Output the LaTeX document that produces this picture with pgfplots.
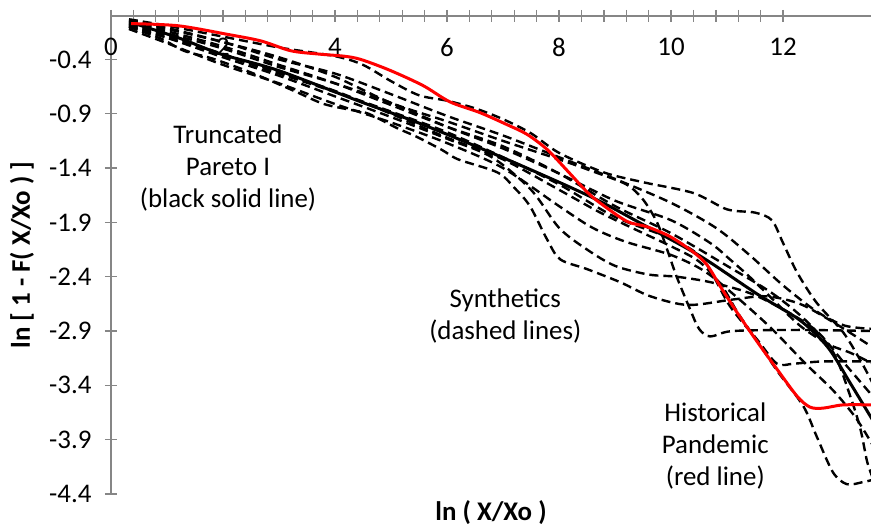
\documentclass[border=0pt]{standalone}
\usepackage{pgfplots}
\pgfplotsset{compat=1.18}
\usepackage{fontspec}
\setmainfont{Carlito}
\definecolor{axisgray}{HTML}{868686}
\begin{document}
\begin{tikzpicture}
\begin{axis}[
  name=ax,
  scale only axis, width=760bp, height=478bp,
  xmin=0, xmax=13.57, ymin=-4.4, ymax=0,
  axis x line=top, axis y line=left,
  axis line style={draw=axisgray, line width=1.3bp, -},
  xtick={0,2,4,6,8,10,12}, xticklabels={0,2,4,6,8,10,12},
  minor x tick num=4,
  ytick={-4.4,-3.9,-3.4,-2.9,-2.4,-1.9,-1.4,-0.9,-0.4},
  yticklabels={-4.4,-3.9,-3.4,-2.9,-2.4,-1.9,-1.4,-0.9,-0.4},
  tick align=center,
  major tick length=12bp, minor tick length=12bp,
  every tick/.style={draw=axisgray, line width=1.3bp},
  every minor tick/.style={draw=axisgray, line width=1.3bp},
  tick label style={font=\fontsize{27}{31}\selectfont},
  xticklabel style={anchor=north, yshift=-25bp},
  yticklabel style={anchor=east, xshift=-10bp},
  xlabel={\textbf{ln ( X/Xo )}},
  ylabel={\textbf{ln [ 1 - F( X/Xo ) ]}},
  label style={font=\fontsize{27}{31}\selectfont},
  xlabel style={at={([yshift=-19bp]rel axis cs:0.5,0)}, anchor=center},
  ylabel style={at={([xshift=-89bp]rel axis cs:0,0.5)}, anchor=center, rotate=0},
  clip=true,
]
% synthetics (dashed)
\pgfplotsset{syn/.style={black, line width=2.4bp, dash pattern=on 9bp off 5bp, smooth}}
\addplot[syn] coordinates {(0.32,-0.03)(1,-0.09)(2,-0.19)(3,-0.29)(4,-0.37)(4.5,-0.45)(5,-0.6)(5.5,-0.73)(6,-0.78)(6.5,-0.85)(7,-0.95)(7.5,-1.08)(8,-1.26)(8.8,-1.44)(9.5,-1.53)(10.4,-1.63)(11,-1.78)(11.5,-1.81)(11.8,-1.88)(12,-2.09)(12.25,-2.36)(12.6,-2.64)(13.07,-2.91)(13.37,-3.16)(13.6,-3.38)};
\addplot[syn] coordinates {(0.32,-0.1)(0.9,-0.21)(1.3,-0.32)(1.8,-0.39)(2.5,-0.52)(3.27,-0.69)(3.8,-0.81)(4.34,-0.87)(4.6,-0.9)(5.1,-1.03)(5.45,-1.11)(5.9,-1.23)(6.2,-1.32)(6.9,-1.44)(7.2,-1.58)(7.48,-1.75)(7.79,-2.06)(8.02,-2.24)(8.5,-2.33)(9.09,-2.45)(9.63,-2.58)(10.3,-2.66)(11.1,-2.61)(11.7,-2.58)(12.3,-2.65)(12.9,-2.82)(13.6,-3.05)};
\addplot[syn] coordinates {(0.32,-0.08)(1,-0.18)(2,-0.35)(3,-0.52)(4,-0.69)(5,-0.9)(6,-1.12)(7,-1.32)(8,-1.6)(8.7,-1.8)(9.3,-1.95)(10,-2.12)(10.5,-2.26)(10.9,-2.48)(11.2,-2.74)(11.55,-3.0)(11.9,-3.27)(12.36,-3.59)(12.6,-3.87)(12.89,-4.2)(13.14,-4.31)(13.43,-4.29)(13.6,-4.27)};
\addplot[syn] coordinates {(0.32,-0.06)(1,-0.14)(2,-0.28)(3,-0.45)(4,-0.62)(5,-0.82)(6,-1.02)(7,-1.2)(8,-1.45)(9,-1.75)(10,-2.0)(11,-2.3)(11.8,-2.55)(12.4,-2.8)(12.9,-3.1)(13.2,-3.5)(13.38,-3.8)(13.5,-4.1)(13.6,-4.25)};
\addplot[syn] coordinates {(0.32,-0.1)(1,-0.2)(2,-0.36)(3,-0.53)(4,-0.7)(5,-0.88)(6,-1.07)(7,-1.3)(8,-1.55)(9,-1.85)(10,-2.05)(10.57,-2.24)(11.05,-2.67)(11.54,-2.98)(11.89,-3.2)(12.2,-3.2)(12.71,-3.18)(13.6,-3.18)};
\addplot[syn] coordinates {(0.32,-0.05)(1,-0.12)(2,-0.24)(3,-0.38)(4,-0.56)(5,-0.8)(6,-0.97)(7,-1.15)(8,-1.32)(8.6,-1.43)(9.2,-1.55)(9.5,-1.69)(9.75,-1.9)(9.93,-2.15)(10.1,-2.4)(10.34,-2.7)(10.5,-2.88)(10.7,-2.95)(11.1,-2.9)(12.3,-2.89)(13.6,-2.9)};
\addplot[syn] coordinates {(0.32,-0.07)(1,-0.16)(2,-0.3)(3,-0.47)(4,-0.62)(5,-0.8)(6,-1.02)(7,-1.22)(8,-1.45)(9,-1.7)(10,-1.88)(10.7,-2.09)(11.05,-2.24)(11.4,-2.4)(11.8,-2.6)(12.3,-2.85)(12.8,-3.02)(13.2,-3.1)(13.6,-3.2)};
\addplot[syn] coordinates {(0.32,-0.12)(1,-0.25)(2,-0.45)(3,-0.62)(4,-0.81)(5,-0.98)(6,-1.17)(7,-1.4)(8,-1.75)(8.6,-1.95)(9.2,-2.08)(10,-2.2)(10.6,-2.35)(11.2,-2.6)(11.8,-2.88)(12.4,-3.2)(12.9,-3.45)(13.3,-3.7)(13.6,-3.95)};
\addplot[syn] coordinates {(0.32,-0.09)(1,-0.2)(2,-0.38)(3,-0.55)(4,-0.74)(5,-0.93)(6,-1.13)(6.8,-1.3)(7.5,-1.6)(8,-1.95)(8.5,-2.15)(9,-2.3)(9.6,-2.38)(10.1,-2.4)(10.7,-2.45)(11.4,-2.55)(12,-2.7)(12.6,-2.9)(13.1,-3.2)(13.6,-3.5)};
\addplot[syn] coordinates {(0.32,-0.04)(1,-0.11)(2,-0.24)(3,-0.4)(4,-0.53)(5,-0.72)(6,-0.92)(7,-1.1)(8,-1.3)(9,-1.5)(10,-1.72)(10.8,-1.95)(11.4,-2.2)(12,-2.48)(12.6,-2.72)(13.1,-2.85)(13.6,-2.88)};
% truncated Pareto I (black solid)
\addplot[black, line width=3bp, smooth] coordinates {(0.36,-0.06)(1.2,-0.2)(1.96,-0.35)(2.98,-0.5)(4.46,-0.79)(5.57,-1.0)(7.07,-1.32)(8.55,-1.66)(9.5,-1.92)(10.52,-2.21)(11.54,-2.56)(12.3,-2.8)(12.8,-3.05)(13.2,-3.38)(13.6,-3.72)};
% historical pandemic (red)
\addplot[red, line width=3bp, smooth] coordinates {(0.36,-0.07)(1.2,-0.09)(2.09,-0.17)(2.68,-0.23)(3.21,-0.32)(3.7,-0.35)(4.16,-0.37)(4.46,-0.40)(4.98,-0.50)(5.57,-0.64)(6.05,-0.79)(6.59,-0.89)(7.07,-1.0)(7.43,-1.09)(7.79,-1.23)(8.14,-1.42)(8.5,-1.62)(8.73,-1.72)(9.21,-1.89)(9.57,-1.94)(9.98,-2.03)(10.39,-2.17)(10.64,-2.29)(10.88,-2.49)(11.18,-2.73)(11.54,-3.0)(11.89,-3.25)(12.25,-3.5)(12.48,-3.6)(12.71,-3.61)(13.07,-3.58)(13.6,-3.58)};
\node[align=center, font=\fontsize{27}{32}\selectfont] at (axis cs:2.09,-1.40) {Truncated\\Pareto I\\(black solid line)};
\node[align=center, font=\fontsize{27}{32}\selectfont] at (axis cs:7.04,-2.76) {Synthetics\\(dashed lines)};
\node[align=center, font=\fontsize{27}{32}\selectfont] at (axis cs:10.79,-3.96) {Historical\\Pandemic\\(red line)};
\end{axis}
\pgfresetboundingbox
\useasboundingbox ([xshift=-111bp,yshift=-35bp]ax.south west) rectangle ([yshift=16bp]ax.north east);
\end{tikzpicture}
\end{document}
